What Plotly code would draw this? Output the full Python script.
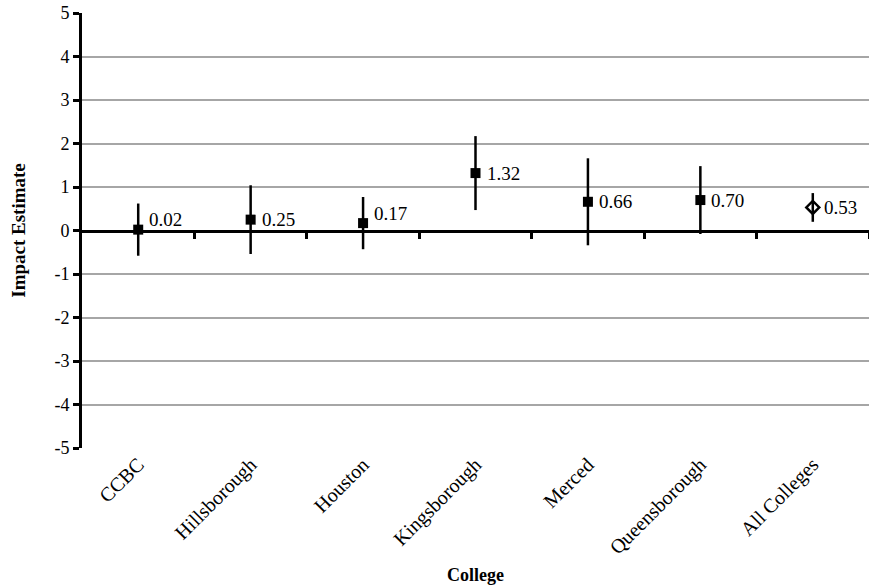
import plotly.graph_objects as go

colleges = ["CCBC", "Hillsborough", "Houston", "Kingsborough", "Merced", "Queensborough", "All Colleges"]
estimates = [0.02, 0.25, 0.17, 1.32, 0.66, 0.70, 0.53]
ci_half = [0.60, 0.79, 0.60, 0.85, 1.00, 0.78, 0.33]
labels = ["0.02", "0.25", "0.17", "1.32", "0.66", "0.70", "0.53"]
y_ticks = [-5, -4, -3, -2, -1, 0, 1, 2, 3, 4, 5]

FONT = "Liberation Serif"
xpos = list(range(len(colleges)))

fig = go.Figure()
fig.add_trace(go.Scatter(
    x=xpos[:-1], y=estimates[:-1], mode="markers",
    marker=dict(symbol="square", size=10, color="black"),
    error_y=dict(type="data", array=ci_half[:-1], visible=True, color="black", thickness=2.5, width=0),
    showlegend=False, cliponaxis=False,
))
fig.add_trace(go.Scatter(
    x=xpos[-1:], y=estimates[-1:], mode="markers",
    marker=dict(symbol="diamond-open", size=10, color="black", line=dict(width=2.5, color="black")),
    error_y=dict(type="data", array=ci_half[-1:], visible=True, color="black", thickness=2.5, width=0),
    showlegend=False, cliponaxis=False,
))
# invisible trace to activate the zero-line axis with boundary ticks
fig.add_trace(go.Scatter(x=[xpos[0]], y=[0], xaxis="x2", mode="markers",
                         marker=dict(opacity=0), showlegend=False, hoverinfo="skip"))

# data labels to the right of each point (lifted when close to the zero line)
for xi, yi, lab in zip(xpos, estimates, labels):
    fig.add_annotation(
        x=xi, y=yi, text=lab, showarrow=False, xanchor="left", yanchor="middle",
        xshift=9, yshift=(10 if abs(yi) < 0.2 else 0),
        font=dict(family=FONT, size=19, color="black"),
    )

# axis titles
fig.add_annotation(x=-0.081, y=0.5, xref="paper", yref="paper", text="<b>Impact Estimate</b>",
                   textangle=-90, showarrow=False, xanchor="center", yanchor="middle",
                   font=dict(family=FONT, size=19, color="black"))
fig.add_annotation(x=0.5, y=-0.292, xref="paper", yref="paper", text="<b>College</b>",
                   showarrow=False, xanchor="center", yanchor="middle",
                   font=dict(family=FONT, size=18, color="black"))

fig.update_layout(
    width=869, height=588,
    margin=dict(l=82, r=0, t=13, b=140),
    plot_bgcolor="white", paper_bgcolor="white",
    font=dict(family=FONT, size=18, color="black"),
    xaxis=dict(
        range=[-0.5, len(colleges) - 0.5],
        tickvals=xpos, ticktext=colleges, tickangle=-45,
        showgrid=False, zeroline=False, showline=False, ticks="",
        tickfont=dict(family=FONT, size=20), automargin=False,
    ),
    xaxis2=dict(
        overlaying="x", anchor="free", position=0.5, side="bottom",
        range=[-0.5, len(colleges) - 0.5],
        tickvals=[i + 0.5 for i in xpos], showticklabels=False,
        ticks="outside", ticklen=6, tickwidth=2.5, tickcolor="black",
        showline=True, linecolor="black", linewidth=3,
        showgrid=False, zeroline=False,
    ),
    yaxis=dict(
        range=[-5, 5], tickvals=y_ticks, ticktext=[str(v) for v in y_ticks],
        showgrid=True, gridcolor="#a6a6a6", gridwidth=2,
        zeroline=False, automargin=False,
        showline=True, linecolor="black", linewidth=3,
        ticks="outside", ticklen=6, tickwidth=2.5, tickcolor="black",
        tickfont=dict(family=FONT, size=18),
    ),
)

fig.write_html("out.html", config={"displayModeBar": False},
               post_script="document.body.style.margin='0';")
